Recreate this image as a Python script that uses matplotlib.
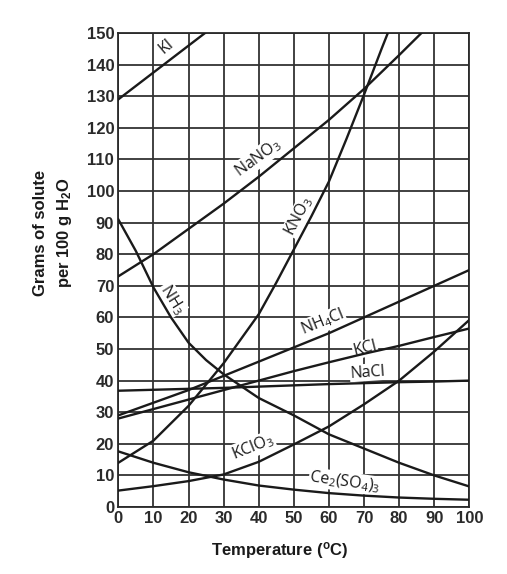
import matplotlib
matplotlib.use("Agg")
import matplotlib.pyplot as plt
from matplotlib.ticker import MultipleLocator

plt.rcParams['font.family'] = ['Liberation Sans', 'DejaVu Sans']
plt.rcParams['mathtext.default'] = 'regular'

# solubility readings (grams of solute per 100 g water) vs temperature (C)
temps = [0, 10, 20, 30, 40, 50, 60, 70, 80, 90, 100]

ki_t = [0, 10, 20, 30]
ki = [129, 137.5, 146, 154.5]

nano3_t = [0, 10, 20, 30, 40, 50, 60, 70, 80, 90]
nano3 = [73, 80, 88, 96, 104.5, 113.5, 122.5, 132.3, 143, 154]

kno3_t = [0, 10, 20, 30, 40, 45, 50, 55, 60, 65, 70, 75, 80]
kno3 = [14, 21, 32, 45.5, 61, 71, 81.5, 92, 103, 116.5, 130.5, 145, 159]

nh3_t = [0, 5, 10, 15, 20, 25, 30, 40, 50, 60, 70, 80, 90, 100]
nh3 = [91, 81, 69.5, 60, 52, 46.5, 42, 34.5, 29, 23, 18.5, 14, 10, 6.5]

nh4cl = [29, 33, 37, 41.5, 46, 50.5, 55, 60, 65, 70, 75]
kcl = [28, 31, 34, 37, 40, 43, 45.8, 48.5, 51, 53.8, 56.5]
nacl = [36.8, 37.1, 37.4, 37.7, 38.1, 38.5, 38.9, 39.2, 39.5, 39.7, 40]
kclo3 = [5.2, 6.6, 8.2, 10.3, 14.3, 19.8, 25.5, 32.5, 40, 49.2, 59.2]
ce2so43 = [17.6, 14, 11, 8.7, 6.8, 5.5, 4.4, 3.6, 3, 2.6, 2.3]

# label text, position (data coords), rotation
labels = [
    ("KI", 13.8, 145.8, 40),
    ("NaNO$_3$", 39.8, 110.5, 36),
    ("KNO$_3$", 51.5, 92, 62),
    ("NH$_3$", 15.3, 65.8, -58),
    ("NH$_4$Cl", 58.3, 58.5, 22),
    ("KCl", 70.3, 50.2, 14),
    ("NaCl", 71.1, 42.6, 4),
    ("KClO$_3$", 38.4, 19.0, 22),
    ("Ce$_2$(SO$_4$)$_3$", 64.6, 8.0, -8),
]

fig = plt.figure(figsize=(5.07, 5.74), dpi=100)
ax = fig.add_axes([0.2334, 0.1167, 0.6923, 0.8258])

ax.plot(ki_t, ki, color='#1a1a1a', lw=1.7, zorder=6)
ax.plot(nano3_t, nano3, color='#1a1a1a', lw=1.7, zorder=6)
ax.plot(kno3_t, kno3, color='#1a1a1a', lw=1.7, zorder=6)
ax.plot(nh3_t, nh3, color='#1a1a1a', lw=1.7, zorder=6)
for series in [nh4cl, kcl, nacl, kclo3, ce2so43]:
    ax.plot(temps, series, color='#1a1a1a', lw=1.7, zorder=6)

for text, x, y, rot in labels:
    ax.text(x, y, text, rotation=rot, rotation_mode='anchor',
            ha='center', va='center', fontsize=11.5, color='#1a1a1a',
            family=['Open Sans', 'DejaVu Sans'],
            bbox=dict(facecolor='white', edgecolor='none', pad=0.5), zorder=5)

ax.set_xlim(0, 100)
ax.set_ylim(0, 150)
ax.xaxis.set_major_locator(MultipleLocator(10))
ax.yaxis.set_major_locator(MultipleLocator(10))
ax.grid(True, color='#333333', lw=1.3)
ax.set_axisbelow(True)
for sp in ax.spines.values():
    sp.set_color('#2a2a2a')
    sp.set_linewidth(1.3)
ax.tick_params(length=0, pad=3, labelsize=12, colors='#2a2a2a')
for lab in ax.get_xticklabels() + ax.get_yticklabels():
    lab.set_fontweight('bold')

ax.set_xlabel("Temperature ($^o$C)", fontsize=12, fontweight='bold', color='#1a1a1a')
ax.xaxis.set_label_coords(0.46, -0.069)
ax.set_ylabel("Grams of solute\nper 100 g H$_2$O", fontsize=12, fontweight='bold',
              color='#1a1a1a', linespacing=1.5)
ax.yaxis.set_label_coords(-0.125, 0.578)

fig.savefig("out.png", dpi=100)
